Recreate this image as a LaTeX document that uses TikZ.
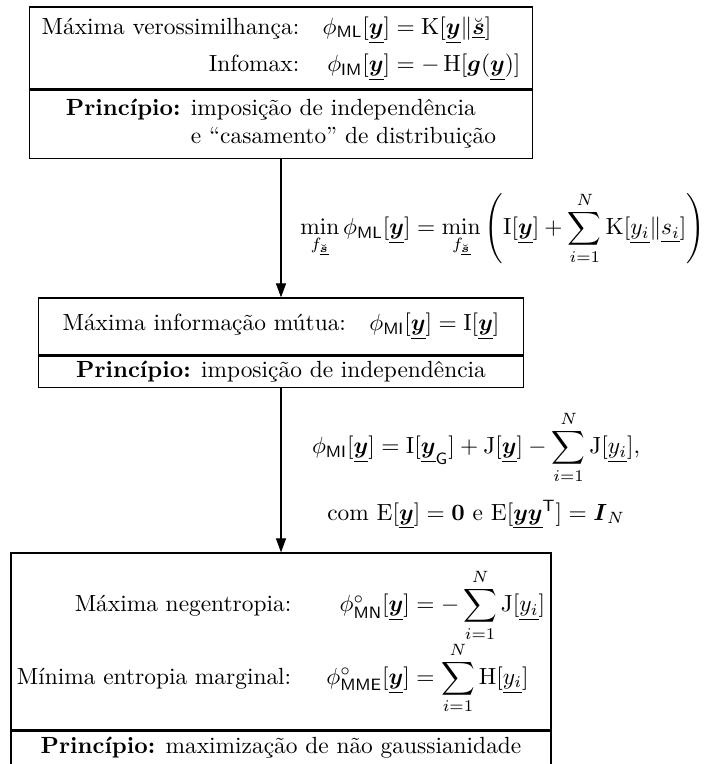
\documentclass[tikz,border=0pt]{standalone}
\usepackage{amsmath,amssymb}
\usepackage{tikz}
\usetikzlibrary{arrows.meta}
\newcommand{\uv}[1]{\underline{\boldsymbol{#1}}}
\newcommand{\us}{\underline{\breve{\boldsymbol{s}}}}
\newcommand{\ul}[1]{\underline{#1}}

\begin{document}
\begin{tikzpicture}[x=0.4275pt, y=-0.4275pt, >={Triangle[width=4.3pt,length=6pt]},
    box/.style={draw, line width=0.5pt, inner xsep=0pt, inner ysep=0pt, align=center},
    lbl/.style={inner sep=0pt, align=center}]
  \useasboundingbox (0,0) rectangle (716,764);
  \node[box, minimum width=215pt, minimum height=35.1pt] (ml) at (281,48)
        {$\begin{array}{@{}r@{\quad}r@{}l@{}}
          \text{Máxima verossimilhança:} & \phi_{\mathsf{ML}}[\uv{y}] & {}= \mathrm{K}[\uv{y}\|\us] \\[4pt]
          \text{Infomax:} & \phi_{\mathsf{IM}}[\uv{y}] & {}= -\operatorname{H}[\boldsymbol{g}(\uv{y})]
        \end{array}$};
  \node[box, minimum width=215pt, minimum height=29.1pt, anchor=north] (mlp) at (ml.south)
        {\begin{tabular}{@{}r@{ }l@{}}
          \textbf{Princípio:} & imposição de independência \\
          & e “casamento” de distribuição
        \end{tabular}};
  \node[box, minimum width=207.3pt, minimum height=24.4pt] (mi) at (281,326.5)
        {Máxima informação mútua:\quad $\phi_{\mathsf{MI}}[\uv{y}] = \mathrm{I}[\uv{y}]$};
  \node[box, minimum width=207.3pt, minimum height=13.3pt, anchor=north] (mip) at (mi.south)
        {\textbf{Princípio:} imposição de independência};
  \node[box, minimum width=230.9pt, minimum height=75.7pt] (mn) at (281,641.5)
        {$\begin{array}{@{}r@{\hspace{15pt}}r@{}l@{}}
          \text{Máxima negentropia:} & \phi^{\circ}_{\mathsf{MN}}[\uv{y}] & {}= -\displaystyle\sum_{i=1}^{N} \mathrm{J}[\ul{y_i}] \\[3pt]
          \text{Mínima entropia marginal:} & \phi^{\circ}_{\mathsf{MME}}[\uv{y}] & {}= \displaystyle\sum_{i=1}^{N} \mathrm{H}[\ul{y_i}]
        \end{array}$};
  \node[box, minimum width=230.9pt, minimum height=14.3pt, anchor=north] (mnp) at (mn.south)
        {\textbf{Princípio:} maximização de não gaussianidade};
  \draw[->, line width=0.5pt] (mlp.south) -- (mi.north)
        node[lbl, midway, right, xshift=8pt]
        {$\displaystyle \min_{f_{\us}} \phi_{\mathsf{ML}}[\uv{y}]
          = \min_{f_{\us}} \left(\mathrm{I}[\uv{y}] + \sum_{i=1}^{N} \mathrm{K}[\ul{y_i}\|\ul{s_i}]\right)$};
  \draw[->, line width=0.5pt] (mip.south) -- (mn.north)
        node[lbl, midway, right, xshift=13pt]
        {$\displaystyle \phi_{\mathsf{MI}}[\uv{y}] = \mathrm{I}[\uv{y}_{\mathsf{G}}] + \mathrm{J}[\uv{y}]
          - \sum_{i=1}^{N} \mathrm{J}[\ul{y_i}],$ \\[6pt]
         com $\mathrm{E}[\uv{y}] = \boldsymbol{0}$ e $\mathrm{E}[\uv{y}\uv{y}^{\mathsf{T}}] = \boldsymbol{I}_N$};
\end{tikzpicture}
\end{document}
